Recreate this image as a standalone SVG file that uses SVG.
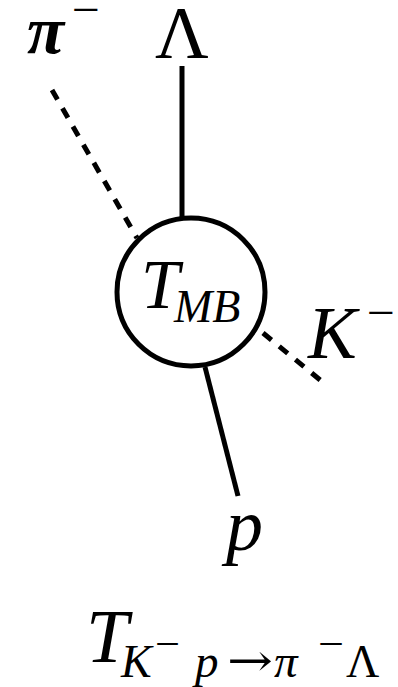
<svg xmlns="http://www.w3.org/2000/svg" width="398" height="687" viewBox="0 0 398 687">
<style>
.ln{stroke:#000;stroke-width:5;fill:none}
.dash{stroke-dasharray:11 10}
.t{font-family:"Liberation Serif","Times New Roman",serif;fill:#000}
.i{font-style:italic}
</style>
<rect width="398" height="687" fill="#fff"/>
<g id="connectors">
<line class="ln dash" x1="52" y1="90" x2="137" y2="238"/>
<line class="ln" x1="182" y1="66" x2="182" y2="218"/>
<line class="ln dash" x1="263" y1="333" x2="325" y2="384"/>
<line class="ln" x1="205" y1="367" x2="238" y2="496"/>
</g>
<g id="node-T">
<circle class="ln" cx="191" cy="292" r="74" stroke-width="4.5"/>
<text class="t i" x="141" y="308" font-size="69">T</text>
<text class="t i" x="174" y="322" font-size="46">MB</text>
</g>
<g id="label-pi">
<text class="t i" x="27" y="53" font-size="68" font-weight="bold">π</text>
<text class="t" x="72" y="25" font-size="46" textLength="28" lengthAdjust="spacingAndGlyphs">−</text>
</g>
<g id="label-Lambda">
<text class="t" x="155" y="58" font-size="74">Λ</text>
</g>
<g id="label-K">
<text class="t i" x="308" y="358" font-size="73">K</text>
<text class="t" x="367" y="328" font-size="46" textLength="28" lengthAdjust="spacingAndGlyphs">−</text>
</g>
<g id="label-p">
<text class="t i" x="226" y="550" font-size="74">p</text>
</g>
<g id="formula">
<text class="t i" x="86" y="662" font-size="76">T</text>
<text class="t i" x="121" y="677" font-size="46">K</text>
<text class="t" x="155" y="657" font-size="40" textLength="25" lengthAdjust="spacingAndGlyphs">−</text>
<text class="t i" x="195" y="677" font-size="47">p</text>
<text x="227" y="676" font-size="45" font-family="'DejaVu Serif',serif" textLength="46" lengthAdjust="spacingAndGlyphs">→</text>
<text class="t i" x="274" y="677" font-size="47">π</text>
<text class="t" x="318" y="657" font-size="40" textLength="26" lengthAdjust="spacingAndGlyphs">−</text>
<text class="t" x="346" y="677" font-size="46">Λ</text>
</g>
</svg>
